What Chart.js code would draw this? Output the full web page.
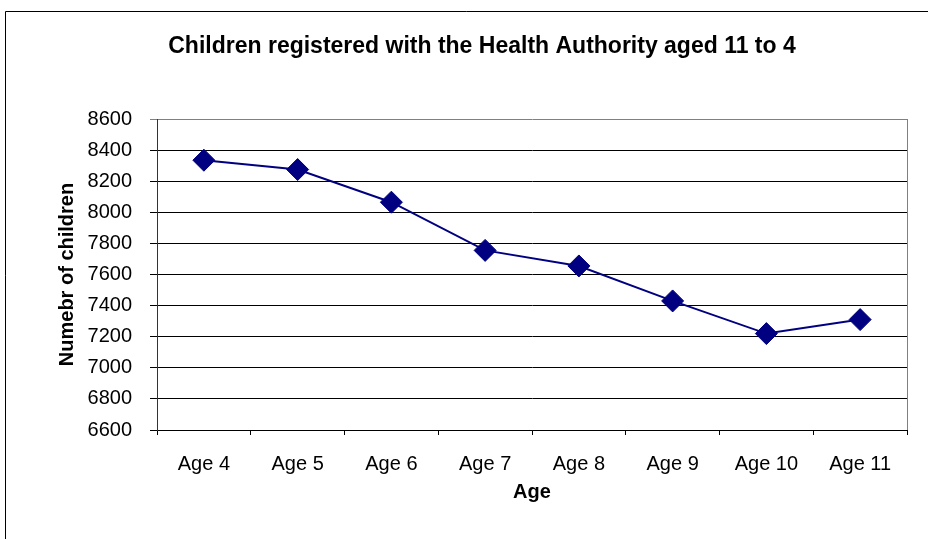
<!DOCTYPE html>
<html>
<head>
<meta charset="utf-8">
<title>Children registered with the Health Authority</title>
<script src="https://cdn.jsdelivr.net/npm/chart.js@4.4.1/dist/chart.umd.min.js"></script>
<style>
  html, body { margin: 0; padding: 0; background: #fff; overflow: hidden; }
  #chart { display: block; }
</style>
</head>
<body>
<canvas id="chart" width="928" height="539"></canvas>
<script>
const CHART_TITLE = "Children registered with the Health Authority aged 11 to 4";
const X_TITLE = "Age";
const Y_TITLE = "Numebr of children";

const ageLabels = ["Age 4", "Age 5", "Age 6", "Age 7", "Age 8", "Age 9", "Age 10", "Age 11"];
const childCounts = [8335, 8275, 8065, 7755, 7655, 7430, 7220, 7310];
const yTicks = [6600, 6800, 7000, 7200, 7400, 7600, 7800, 8000, 8200, 8400, 8600];

const NAVY = "#000080";
const FONT = "Arial, 'Liberation Sans', sans-serif";

// outer frame of the chart object (top + left edges visible)
const framePlugin = {
  id: "frame",
  beforeDraw(chart) {
    const ctx = chart.ctx;
    ctx.save();
    ctx.fillStyle = "#fff";
    ctx.fillRect(0, 0, chart.width, chart.height);
    ctx.strokeStyle = "#000";
    ctx.lineWidth = 1;
    ctx.beginPath();
    ctx.moveTo(5.5, chart.height);
    ctx.lineTo(5.5, 11.5);
    ctx.lineTo(chart.width, 11.5);
    ctx.stroke();
    ctx.restore();
  },
  beforeDatasetsDraw(chart) {
    const { ctx, chartArea } = chart;
    ctx.save();
    ctx.strokeStyle = "#808080";
    ctx.lineWidth = 1;
    ctx.beginPath();
    ctx.moveTo(Math.round(chartArea.right) + 0.5, chartArea.top);
    ctx.lineTo(Math.round(chartArea.right) + 0.5, chartArea.bottom);
    ctx.stroke();
    ctx.restore();
  }
};

function init() {
  const ctx = document.getElementById("chart").getContext("2d");

  new Chart(ctx, {
    type: "line",
    data: {
      labels: ageLabels,
      datasets: [{
        data: childCounts,
        borderColor: NAVY,
        borderWidth: 2,
        tension: 0,
        fill: false,
        pointStyle: "rectRot",
        pointRadius: 11,
        pointBorderWidth: 1,
        pointBackgroundColor: NAVY,
        pointBorderColor: NAVY,
      }]
    },
    options: {
      responsive: false,
      animation: false,
      events: [],
      layout: { padding: { left: 57, right: 21, top: 0, bottom: 0 } },
      plugins: {
        legend: { display: false },
        tooltip: { enabled: false },
        title: {
          display: true,
          text: CHART_TITLE,
          color: "#000",
          font: { family: FONT, size: 23, weight: "bold" },
          padding: { top: 33, bottom: 58.4 },
        },
      },
      scales: {
        x: {
          offset: true,
          grid: {
            offset: true,
            drawOnChartArea: false,
            drawTicks: true,
            tickLength: 5,
            color: "#000",
          },
          border: { color: "#000", width: 1 },
          ticks: {
            color: "#000",
            font: { family: FONT, size: 20 },
            padding: 17,
            maxRotation: 0,
            autoSkip: false,
          },
          title: {
            display: true,
            text: X_TITLE,
            color: "#000",
            font: { family: FONT, size: 20, weight: "bold" },
            padding: { top: 0, bottom: 35 },
          },
          afterFit(scale) {
            scale.height = 109;
          },
        },
        y: {
          min: yTicks[0],
          max: yTicks[yTicks.length - 1],
          afterBuildTicks(scale) {
            scale.ticks = yTicks.map(v => ({ value: v }));
          },
          grid: {
            color: (c) => (c.tick && c.tick.value === yTicks[yTicks.length - 1]) ? "#808080" : "#000",
            tickLength: 7,
          },
          border: { color: "#333", width: 1 },
          ticks: {
            color: "#000",
            font: { family: FONT, size: 20 },
            padding: 18,
            callback: (value) => String(value),
          },
          title: {
            display: true,
            text: Y_TITLE,
            color: "#000",
            font: { family: FONT, size: 20, weight: "bold" },
            padding: { top: -2, bottom: 0 },
          },
          afterFit(scale) {
            scale.width = 100;
          },
        }
      }
    },
    plugins: [framePlugin]
  });
}

document.addEventListener("DOMContentLoaded", init);
</script>
</body>
</html>
